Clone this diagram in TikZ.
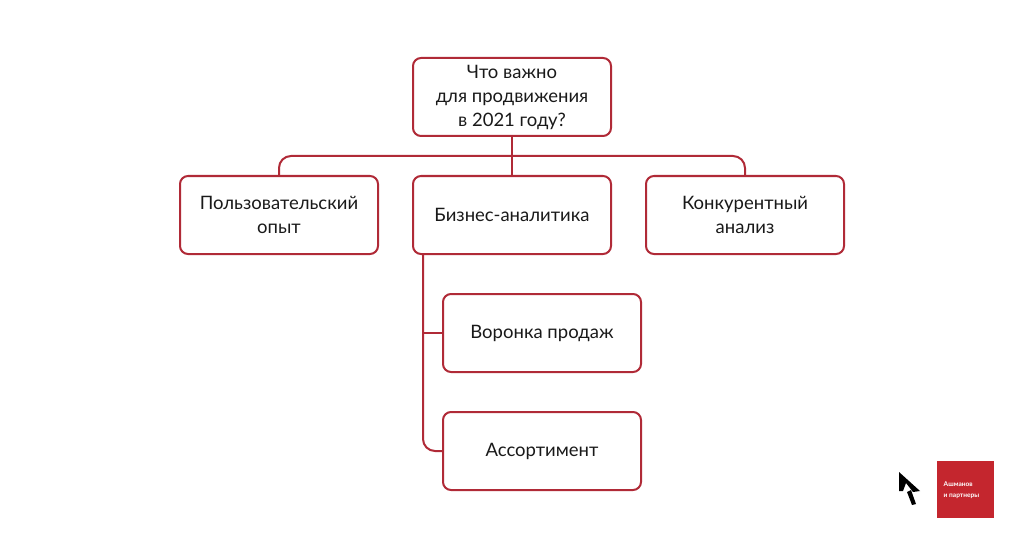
\documentclass[tikz,border=0pt]{standalone}
\usepackage{fontspec}
\setmainfont{Lato}
\definecolor{boxred}{HTML}{B02A37}
\definecolor{logored}{HTML}{C4262E}
\tikzset{
  every picture/.style={x=1pt,y=-1pt},
  card/.style={draw=boxred,line width=2pt,rounded corners=8pt,minimum width=198pt,minimum height=78pt,inner sep=0pt,align=center,font=\fontsize{18.5}{24}\selectfont,text=black!90},
  link/.style={draw=boxred,line width=2pt},
}
\begin{document}
\begin{tikzpicture}
\useasboundingbox (0,0) rectangle (1024,548);
\node[card] (root) at (512,97) {Что важно\\для продвижения\\в 2021 году?};
\node[card] (ux) at (279,215) {Пользовательский\\опыт};
\node[card] (bi) at (512,215) {Бизнес-аналитика};
\node[card] (comp) at (745,215) {Конкурентный\\анализ};
\node[card] (funnel) at (542,333) {Воронка продаж};
\node[card] (range) at (542,451) {Ассортимент};
\draw[link] (root.south) -- (bi.north);
\draw[link,rounded corners=12pt] (ux.north) -- (279,156) -- (745,156) -- (comp.north);
\coordinate (trunk) at (423,254);
\draw[link,rounded corners=12pt] (trunk) -- (423,451) -- (range.west);
\draw[link] (423,333) -- (funnel.west);
\fill[black] (899,472) -- (920,491) -- (913,492) -- (906,483) -- (903,491) -- (899,491) -- cycle;
\fill[black] (907,492) -- (911,490) -- (916,504) -- (912,505) -- cycle;
\node[fill=logored,minimum size=57pt,inner sep=0pt] (logo) at (965.5,489.5) {};
\node[anchor=west,text=white,align=left,inner sep=0pt,font=\bfseries\fontsize{6.6}{11}\selectfont] (logotext) at (943.5,490) {Ашманов\\и партнеры};
\end{tikzpicture}
\end{document}
